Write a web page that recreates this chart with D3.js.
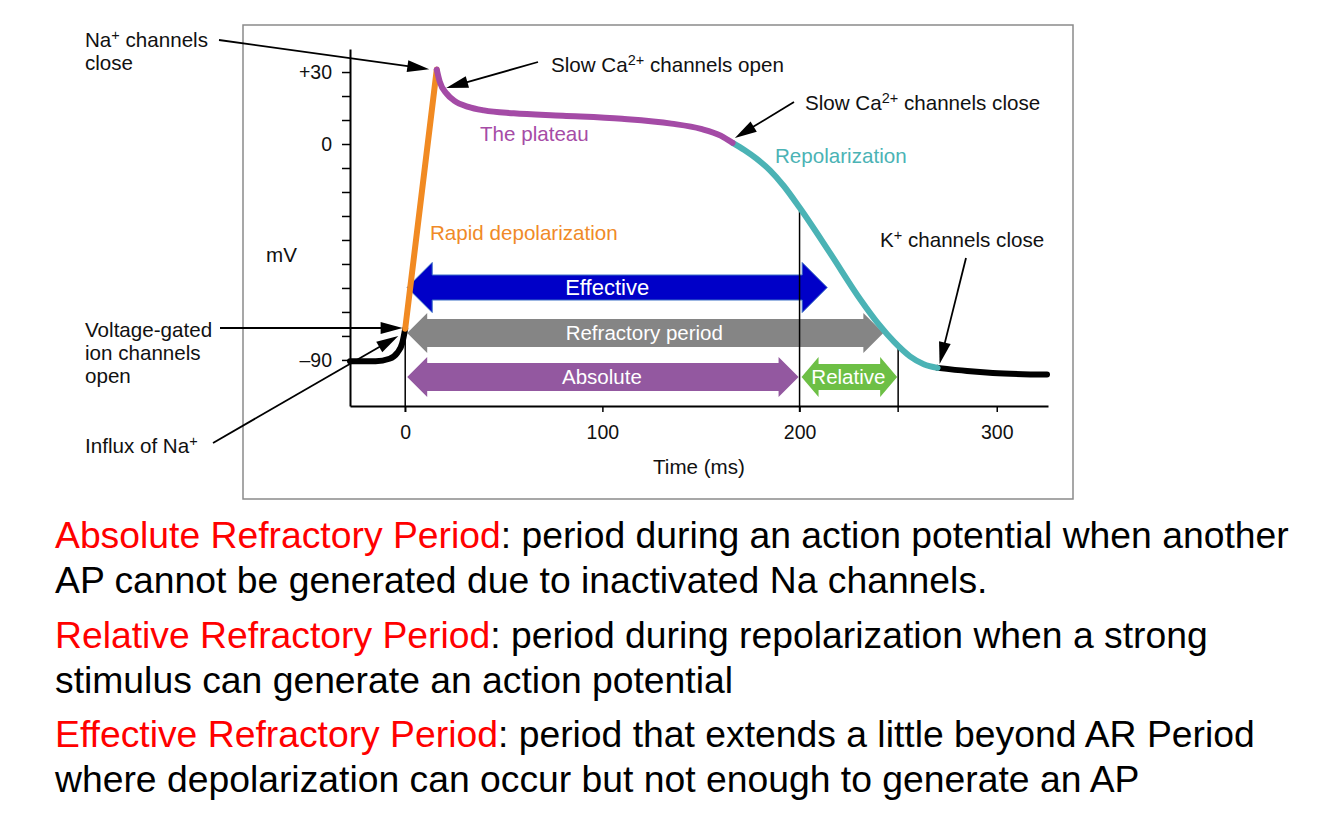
<!DOCTYPE html>
<html lang="en">
<head>
<meta charset="UTF-8">
<title>Cardiac action potential - refractory periods</title>
<script src="https://d3js.org/d3.v7.min.js"></script>
<style>
  html, body { margin: 0; padding: 0; background: #fff; }
  svg { display: block; font-family: "Liberation Sans", Arial, Helvetica, sans-serif; }
  .axis path, .axis line { stroke: #000; }
  .axis text { font-size: 19.5px; fill: #111; font-family: "Liberation Sans", Arial, sans-serif; }
  .note { font-size: 20.6px; fill: #111; }
  .band text { fill: #fff; }
  .def { font-size: 37.3px; fill: #000; }
</style>
</head>
<body>
<svg id="chart" width="1334" height="830"></svg>
<script>
// membrane potential, [time ms, mV], one array per phase
const restingPhase = [[-28, -90.5], [-15, -90.5], [-8, -89.5], [-4, -87], [-1.5, -83], [0, -77]];
const depolarizationPhase = [[0, -77], [16, 31]];
const plateauPhase = [[16, 31], [17.5, 26], [21, 21], [25, 18], [32, 15.5], [40, 14], [55, 12.8],
  [80, 11.8], [110, 10.5], [135, 8.5], [150, 6.3], [160, 3.5], [166, 0.5]];
const repolarizationPhase = [[166, 0.5], [172, -2.5], [178, -6], [185, -11], [192, -17.5], [200, -26.5],
  [215.5, -45.5], [231, -65], [240, -75], [248, -82.5], [256, -88.5], [263, -91.8], [270, -93.3]];
const afterPhase = [[270, -93.3], [285, -94.6], [298, -95.4], [325.5, -96.1]];

const yTickValues = [-90, -80, -70, -60, -50, -40, -30, -20, -10, 0, 10, 20, 30];
const yTickLabels = { "30": "+30", "0": "0", "-90": "\u201390" };
const xTickValues = [0, 100, 200, 300];

// vertical guide lines (time, mV where they meet the trace)
const markerTimes = [0, 200, 250];
const markerTopMv = [-77, -26.5, -84];

// refractory bands
const periodNames = ["Effective", "Refractory period", "Absolute", "Relative"];
const periodStart = [0, 0, 0, 200];
const periodEnd = [214, 242.5, 199.5, 249.5];

const defTerms = ["Absolute Refractory Period", "Relative Refractory Period", "Effective Refractory Period"];
const defLines = [
  ["period during an action potential when another", "AP cannot be generated due to inactivated Na channels."],
  ["period during repolarization when a strong", "stimulus can generate an action potential"],
  ["period that extends a little beyond AR Period", "where depolarization can occur but not enough to generate an AP"]
];

const svg = d3.select("#chart");
const x = d3.scaleLinear().domain([-28, 326]).range([350, 1048]);
const y = d3.scaleLinear().domain([-109.2, 39.6]).range([406, 49]);

// figure frame
svg.append("rect")
  .attr("x", 243).attr("y", 25).attr("width", 830).attr("height", 474)
  .attr("fill", "none").attr("stroke", "#8a8a8a").attr("stroke-width", 1.5);

// axes
const yAxis = svg.append("g").attr("class", "axis")
  .attr("transform", `translate(${x(-28)},0)`)
  .call(d3.axisLeft(y).tickValues(yTickValues).tickSize(8).tickSizeOuter(0).tickPadding(10)
    .tickFormat(d => yTickLabels[d] || ""));
yAxis.select(".domain").attr("stroke-width", 2);
yAxis.selectAll(".tick line").attr("stroke-width", 1.5);

const xAxis = svg.append("g").attr("class", "axis")
  .attr("transform", `translate(0,${y(-109.2)})`)
  .call(d3.axisBottom(x).tickValues(xTickValues).tickSize(6).tickSizeOuter(0).tickPadding(13));
xAxis.select(".domain").attr("stroke-width", 2);
xAxis.selectAll(".tick line").attr("stroke-width", 1.5);

svg.append("text").attr("class", "note").attr("x", 699).attr("y", 474)
  .attr("text-anchor", "middle").text("Time (ms)");
svg.append("text").attr("class", "note").attr("x", 266).attr("y", 262).text("mV");

// double-headed block arrows
const bandCy = [287.5, 333, 377, 377];
const bandBody = [12.5, 14, 14, 13];
const bandHead = [25, 20, 20, 20];
const bandHeadLen = [25, 20, 20, 17];
const bandFill = ["#0000c8", "#858585", "#9358a0", "#6dbf45"];
const bandStroke = ["#3b6fc6", "none", "none", "none"];
const bandFont = [22, 20.5, 20.5, 20.5];
const bandDx = [-9, 0, 0, 0];

function bandPoints(x0, x1, cy, bh, hh, hl) {
  return [[x0, cy], [x0 + hl, cy - hh], [x0 + hl, cy - bh], [x1 - hl, cy - bh], [x1 - hl, cy - hh],
    [x1, cy], [x1 - hl, cy + hh], [x1 - hl, cy + bh], [x0 + hl, cy + bh], [x0 + hl, cy + hh]];
}

const bands = svg.append("g").attr("class", "band")
  .selectAll("g").data(periodNames).join("g");
bands.append("polygon")
  .attr("points", (d, i) => bandPoints(x(periodStart[i]) + 2, x(periodEnd[i]), bandCy[i],
    bandBody[i], bandHead[i], bandHeadLen[i]).join(" "))
  .attr("fill", (d, i) => bandFill[i])
  .attr("stroke", (d, i) => bandStroke[i]).attr("stroke-width", 1);
bands.append("text")
  .attr("x", (d, i) => (x(periodStart[i]) + x(periodEnd[i])) / 2 + bandDx[i])
  .attr("y", (d, i) => bandCy[i] + 0.35 * bandFont[i])
  .attr("text-anchor", "middle")
  .style("font-size", (d, i) => bandFont[i] + "px")
  .text(d => d);

// guide lines from trace down through the axis
svg.append("g").selectAll("line").data(markerTimes).join("line")
  .attr("x1", d => x(d)).attr("x2", d => x(d))
  .attr("y1", (d, i) => y(markerTopMv[i])).attr("y2", y(-109.2) + 6)
  .attr("stroke", "#000").attr("stroke-width", 1.5);

// the action potential trace
const line = d3.line().x(d => x(d[0])).y(d => y(d[1])).curve(d3.curveMonotoneX);
const phases = [
  [restingPhase, "#000"],
  [afterPhase, "#000"],
  [depolarizationPhase, "#f18a22"],
  [repolarizationPhase, "#4bb3b5"],
  [plateauPhase, "#a44ba6"]
];
svg.append("g").selectAll("path").data(phases).join("path")
  .attr("d", d => line(d[0]))
  .attr("fill", "none")
  .attr("stroke", d => d[1])
  .attr("stroke-width", 6)
  .attr("stroke-linecap", "round")
  .attr("stroke-linejoin", "round");

// annotation text, {..} marks a superscript
function richText(g, str) {
  const parts = str.split(/(\{[^}]*\})/).filter(s => s.length);
  let raised = false;
  parts.forEach(p => {
    if (p[0] === "{") {
      g.append("tspan").attr("dy", -7.5).style("font-size", "14.5px").text(p.slice(1, -1));
      raised = true;
    } else {
      const t = g.append("tspan").text(p);
      if (raised) { t.attr("dy", 7.5); raised = false; }
    }
  });
}

const notes = [
  { lines: ["Na{+} channels", "close"], x: 85, y: 47, color: "#111" },
  { lines: ["Voltage-gated", "ion channels", "open"], x: 85, y: 337, color: "#111" },
  { lines: ["Influx of Na{+}"], x: 85, y: 453, color: "#111" },
  { lines: ["Slow Ca{2+} channels open"], x: 551, y: 72, color: "#111" },
  { lines: ["Slow Ca{2+} channels close"], x: 805, y: 110, color: "#111" },
  { lines: ["K{+} channels close"], x: 880, y: 247, color: "#111" },
  { lines: ["The plateau"], x: 480, y: 141, color: "#a64ca6" },
  { lines: ["Repolarization"], x: 775, y: 163, color: "#4bb3b5" },
  { lines: ["Rapid depolarization"], x: 430, y: 240, color: "#f08a28" }
];
notes.forEach(n => {
  n.lines.forEach((s, k) => {
    const t = svg.append("text").attr("class", "note")
      .attr("x", n.x).attr("y", n.y + k * 23)
      .style("fill", n.color);
    richText(t, s);
  });
});

// pointer arrows: start in px, tip on the trace in data units
const pointers = [
  { from: [219, 40], tip: [12.2, 31.2] },
  { from: [538, 62], tip: [20.8, 23.3] },
  { from: [794, 102], tip: [167.2, 2.5] },
  { from: [966, 258], tip: [271, -91.7] },
  { from: [220, 328], tip: [-1.3, -76.7] },
  { from: [213, 443], tip: [-3.5, -80] }
];
const headLen = 22, headHalf = 6;
const pg = svg.append("g");
pointers.forEach(p => {
  const tx = x(p.tip[0]), ty = y(p.tip[1]);
  const dx = tx - p.from[0], dy = ty - p.from[1];
  const L = Math.hypot(dx, dy), ux = dx / L, uy = dy / L;
  const bx = tx - ux * headLen, by = ty - uy * headLen;
  pg.append("line")
    .attr("x1", p.from[0]).attr("y1", p.from[1]).attr("x2", bx + ux * 2).attr("y2", by + uy * 2)
    .attr("stroke", "#000").attr("stroke-width", 1.8);
  pg.append("polygon")
    .attr("points", [[tx, ty], [bx - uy * headHalf, by + ux * headHalf], [bx + uy * headHalf, by - ux * headHalf]].join(" "))
    .attr("fill", "#000");
});

// definitions under the figure
const defBaselines = [548, 648, 747];
defTerms.forEach((term, i) => {
  const t1 = svg.append("text").attr("class", "def").attr("x", 55).attr("y", defBaselines[i]);
  t1.append("tspan").style("fill", "#ff0000").text(term);
  t1.append("tspan").text(": " + defLines[i][0]);
  svg.append("text").attr("class", "def").attr("x", 55).attr("y", defBaselines[i] + 45)
    .text(defLines[i][1]);
});
</script>
</body>
</html>
